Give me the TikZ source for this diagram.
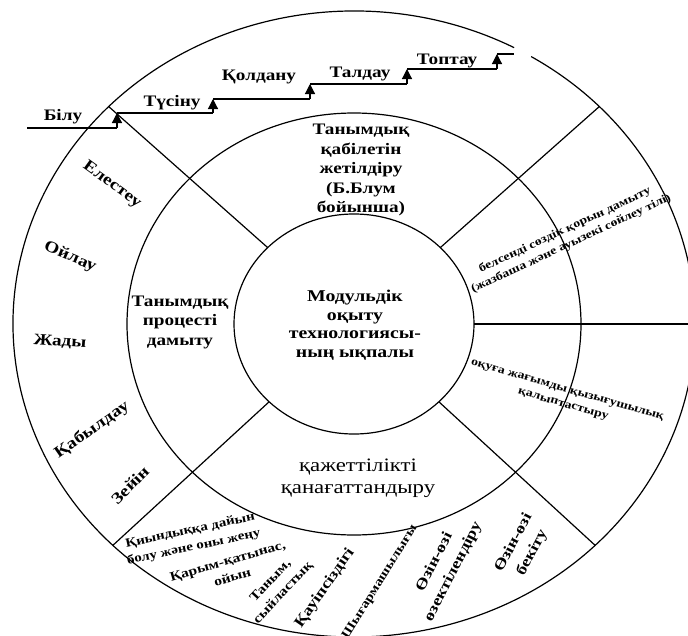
\documentclass[tikz,border=0pt]{standalone}
\usepackage{fontspec}
\setmainfont[FakeStretch=1.2]{Liberation Serif}
\usetikzlibrary{arrows.meta,calc}
\begin{document}
\begin{tikzpicture}[x=1pt,y=-1pt,
  ring/.style={line width=1.2pt},
  spoke/.style={line width=1.2pt},
  stepline/.style={line width=1.2pt},
  riser/.style={line width=1.2pt,-{Triangle[width=10pt,length=10pt]}},
  steplbl/.style={font=\bfseries\fontsize{16}{18}\selectfont,anchor=base,inner sep=0pt},
  corelbl/.style={font=\bfseries\fontsize{16.5}{18.5}\selectfont,align=center,inner sep=0pt},
  midlbl/.style={font=\bfseries\fontsize{16}{19.5}\selectfont,align=center,inner sep=0pt},
  needlbl/.style={font=\fontsize{19}{22}\selectfont,align=center,inner sep=0pt},
  sidelbl/.style={font=\bfseries\fontsize{11.5}{15}\selectfont,align=center,inner sep=0pt},
  outlbl/.style={font=\bfseries\fontsize{16}{18}\selectfont,inner sep=0pt},
  botsmall/.style={font=\bfseries\fontsize{12.5}{17}\selectfont,align=center,inner sep=0pt},
  botmid/.style={font=\bfseries\fontsize{13}{17}\selectfont,align=center,inner sep=0pt},
  botbig/.style={font=\bfseries\fontsize{15}{21}\selectfont,align=center,inner sep=0pt},
]
\useasboundingbox (0,0) rectangle (688,635);
\fill[white] (0,0) rectangle (688,635);

\coordinate (C) at (354,324);

% three rings: inner, middle and the outer one opened at the top
\draw[ring] (C) ellipse [x radius=120, y radius=110];
\draw[ring] (C) ellipse [x radius=227, y radius=211];
\draw[ring] ($(C)+({341*cos(-58.7)},{313*sin(-58.7)})$)
  arc[start angle=-58.7, end angle=298, x radius=341, y radius=313];

% spokes from the inner ring to the outer ring
\foreach \n/\a in {ul/136, ur/44, rt/0, lr/-45, ll/225} {
  \coordinate (\n-in) at ($(C)+({120*cos(\a)},{-110*sin(\a)})$);
  \coordinate (\n-out) at ($(C)+({341*cos(\a)},{-313*sin(\a)})$);
  \draw[spoke] (\n-in) -- (\n-out);
}

% Bloom staircase
\coordinate (s0a) at (27,128);  \coordinate (s0b) at (117,128);
\coordinate (s1a) at (117,113); \coordinate (s1b) at (213,113);
\coordinate (s2a) at (213,99);  \coordinate (s2b) at (310,99);
\coordinate (s3a) at (310,84);  \coordinate (s3b) at (407,84);
\coordinate (s4a) at (407,69);  \coordinate (s4b) at (497,69);
\coordinate (s5a) at (497,54);  \coordinate (s5b) at (514,54);
\draw[stepline] (s0a) -- (s0b);
\draw[stepline] (s1a) -- (s1b);
\draw[stepline] (s2a) -- (s2b);
\draw[stepline] (s3a) -- (s3b);
\draw[stepline] (s4a) -- (s4b);
\draw[stepline] (s5a) -- (s5b);
\draw[riser] (s0b) -- (s1a);
\draw[riser] (s1b) -- (s2a);
\draw[riser] (s2b) -- (s3a);
\draw[riser] (s3b) -- (s4a);
\draw[riser] (s4b) -- (s5a);

\node[steplbl] (bilu) at (63,120) {Білу};
\node[steplbl] (tusinu) at (172,106) {Түсіну};
\node[steplbl] (qoldanu) at (259,80) {Қолдану};
\node[steplbl] (taldau) at (360,77) {Талдау};
\node[steplbl] (toptau) at (447,64) {Топтау};

% centre and middle ring
\node[corelbl] (core) at (355,325) {Модульдік\\оқыту\\технологиясы-\\ның ықпалы};
\node[midlbl] (bloom) at (361,170) {Танымдық\\қабілетін\\жетілдіру\\(Б.Блум\\бойынша)};
\node[midlbl] (process) at (180,322) {Танымдық\\процесті\\дамыту};
\node[needlbl] (need) at (358,478) {қажеттілікті\\қанағаттандыру};
\node[sidelbl, rotate=25] (vocab) at (568,237) {белсенді сөздік қорын дамыту\\(жазбаша және ауызекі сөйлеу тілі)};
\node[sidelbl, rotate=-16] (interest) at (565,398) {оқуға жағымды қызығушылық\\қалыптастыру};

% outer ring, left
\node[outlbl, rotate=-36] (elestey) at (112,185) {Елестеу};
\node[outlbl, rotate=-23] (oilau) at (70,257) {Ойлау};
\node[outlbl, rotate=-4] (jady) at (60,342) {Жады};
\node[outlbl, rotate=35] (qabyldau) at (92,430) {Қабылдау};
\node[outlbl, rotate=45] (zeyin) at (130,485) {Зейін};

% outer ring, bottom
\node[botsmall, rotate=12] (ready) at (192,539) {Қиындыққа дайын\\болу және оны жеңу};
\node[botmid, rotate=16] (social) at (230,569) {Қарым-қатынас,\\ойын};
\node[botmid, rotate=47] (respect) at (277,587) {Таным,\\сыйластық};
\node[botbig, rotate=55] (safety) at (325,588) {Қауіпсіздігі};
\node[botsmall, rotate=58] (creative) at (380,582) {Шығармашылығы};
\node[botbig, rotate=63] (actual) at (444,567) {Өзін-өзі\\өзектілендіру};
\node[botbig, rotate=62] (assert) at (523,548) {Өзін-өзі\\бекіту};
\end{tikzpicture}
\end{document}
